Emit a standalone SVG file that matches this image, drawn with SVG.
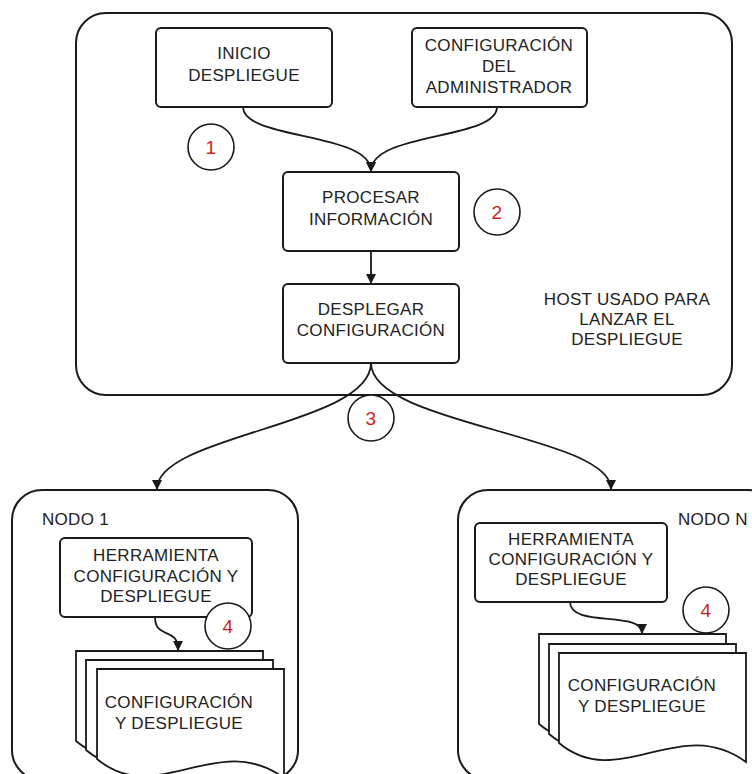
<svg xmlns="http://www.w3.org/2000/svg" width="752" height="774" viewBox="0 0 752 774">
  <style>
    .frame { fill: #ffffff; stroke: #1a1a1a; stroke-width: 2; }
    .box { fill: #ffffff; stroke: #1a1a1a; stroke-width: 2; }
    .doc { fill: #ffffff; stroke: #1a1a1a; stroke-width: 1.8; }
    .step { fill: #ffffff; stroke: #1a1a1a; stroke-width: 1.6; }
    .wire { fill: none; stroke: #1a1a1a; stroke-width: 1.8; marker-end: url(#arrow); }
    text { font-family: "Liberation Sans", Arial, sans-serif; font-size: 17px; fill: #222222; text-anchor: middle; letter-spacing: 0.3px; }
    .num { fill: #cc1f1f; font-size: 19px; }
    .left { text-anchor: start; }
  </style>
  <defs>
    <marker id="arrow" viewBox="0 0 10 10" refX="9" refY="5" markerWidth="11" markerHeight="10" markerUnits="userSpaceOnUse" orient="auto">
      <path d="M0,0 L10,5 L0,10 Z" fill="#1a1a1a"/>
    </marker>
    <!-- document sheet with wavy bottom edge, origin at top-left -->
    <path id="sheet" d="M0,0 H187 V109 C120,60 60,140 0,90 Z"/>
  </defs>

  <!-- host frame -->
  <g id="host">
    <rect class="frame" x="76" y="13" width="656" height="382" rx="30"/>
    <text x="627" y="305">HOST USADO PARA</text>
    <text x="627" y="325">LANZAR EL</text>
    <text x="627" y="345">DESPLIEGUE</text>
  </g>

  <!-- cluster nodes -->
  <g id="nodo1">
    <rect class="frame" x="12" y="490" width="286" height="290" rx="30"/>
    <text class="left" x="42" y="525">NODO 1</text>
  </g>
  <g id="nodoN">
    <rect class="frame" x="458" y="490" width="320" height="290" rx="30"/>
    <text class="left" x="678" y="525">NODO N</text>
  </g>

  <g id="inicio">
    <rect class="box" x="156" y="28" width="176" height="79" rx="5"/>
    <text x="244" y="59">INICIO</text>
    <text x="244" y="81">DESPLIEGUE</text>
  </g>

  <g id="config-admin">
    <rect class="box" x="412" y="28" width="175" height="79" rx="5"/>
    <text x="499" y="51">CONFIGURACIÓN</text>
    <text x="499" y="72">DEL</text>
    <text x="499" y="93">ADMINISTRADOR</text>
  </g>

  <g id="procesar">
    <rect class="box" x="283" y="172" width="176" height="79" rx="5"/>
    <text x="371" y="203">PROCESAR</text>
    <text x="371" y="225">INFORMACIÓN</text>
  </g>

  <g id="desplegar">
    <rect class="box" x="283" y="284" width="176" height="79" rx="5"/>
    <text x="371" y="315">DESPLEGAR</text>
    <text x="371" y="336">CONFIGURACIÓN</text>
  </g>

  <g id="herramienta-1">
    <rect class="box" x="60" y="538" width="192" height="79" rx="5"/>
    <text x="156" y="561">HERRAMIENTA</text>
    <text x="156" y="582">CONFIGURACIÓN Y</text>
    <text x="156" y="602">DESPLIEGUE</text>
  </g>

  <g id="herramienta-n">
    <rect class="box" x="475" y="523" width="192" height="79" rx="5"/>
    <text x="571" y="545">HERRAMIENTA</text>
    <text x="571" y="565">CONFIGURACIÓN Y</text>
    <text x="571" y="585">DESPLIEGUE</text>
  </g>

  <g id="docs-1">
    <use href="#sheet" class="doc" x="76" y="651"/>
    <use href="#sheet" class="doc" x="86" y="660"/>
    <use href="#sheet" class="doc" x="97" y="669"/>
    <text x="179" y="708">CONFIGURACIÓN</text>
    <text x="179" y="729">Y DESPLIEGUE</text>
  </g>

  <g id="docs-n">
    <use href="#sheet" class="doc" x="539" y="634"/>
    <use href="#sheet" class="doc" x="549" y="644"/>
    <use href="#sheet" class="doc" x="559" y="653"/>
    <text x="642" y="691">CONFIGURACIÓN</text>
    <text x="642" y="712">Y DESPLIEGUE</text>
  </g>

  <!-- connectors -->
  <g id="connectors">
    <path class="wire" d="M243,107 C243,140 371,132 371,171"/>
    <path class="wire" d="M497,107 C497,140 371,132 371,171"/>
    <path class="wire" d="M371,251 L371,283"/>
    <path class="wire" d="M371,363 C371,425 157,435 157,489"/>
    <path class="wire" d="M371,363 C371,425 611,435 611,489"/>
    <path class="wire" d="M155,617 C155,640 178,626 178,650"/>
    <path class="wire" d="M570,602 C570,628 642,610 642,633"/>
  </g>

  <!-- step markers -->
  <g id="step-1">
    <circle class="step" cx="211" cy="147" r="23"/>
    <text class="num" x="211" y="154">1</text>
  </g>
  <g id="step-2">
    <circle class="step" cx="497" cy="212" r="23"/>
    <text class="num" x="497" y="219">2</text>
  </g>
  <g id="step-3">
    <circle class="step" cx="371" cy="418" r="23"/>
    <text class="num" x="371" y="425">3</text>
  </g>
  <g id="step-4a">
    <circle class="step" cx="228" cy="626" r="23"/>
    <text class="num" x="228" y="633">4</text>
  </g>
  <g id="step-4b">
    <circle class="step" cx="706" cy="610" r="23"/>
    <text class="num" x="706" y="617">4</text>
  </g>
</svg>
